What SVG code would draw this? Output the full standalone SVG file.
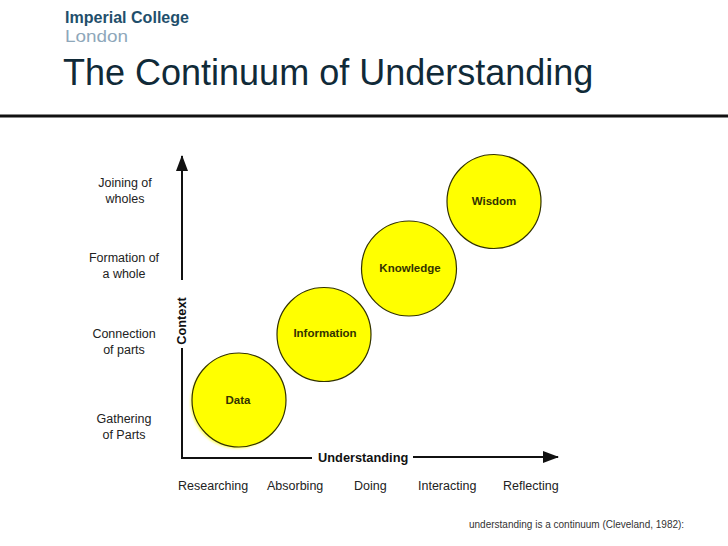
<svg xmlns="http://www.w3.org/2000/svg" width="728" height="546" viewBox="0 0 728 546">
<style>
.lbl{font-family:"Liberation Sans",Arial,sans-serif;font-size:12.5px;fill:#222;}
.ax{font-family:"Liberation Sans",Arial,sans-serif;font-size:12.8px;font-weight:bold;fill:#111;}
.node circle{fill:#ffff00;stroke:#333300;stroke-width:1.2;}
.node text{font-family:"Liberation Sans",Arial,sans-serif;font-size:11.5px;font-weight:bold;fill:#333300;text-anchor:middle;}
.axis{stroke:#111;stroke-width:2;fill:none;}
</style>
<defs>
<marker id="arr" markerWidth="16" markerHeight="12" refX="15" refY="6" orient="auto" markerUnits="userSpaceOnUse">
<path d="M0,0 L16,6 L0,12 Z" fill="#111"/>
</marker>
<filter id="sh" x="-20%" y="-20%" width="140%" height="140%"><feGaussianBlur stdDeviation="1.2"/></filter>
</defs>
<rect width="728" height="546" fill="#fff"/>
<g id="header">
<text x="65" y="23" font-family="'Liberation Sans',Arial,sans-serif" font-size="16" font-weight="bold" fill="#1f4f6c" textLength="124" lengthAdjust="spacingAndGlyphs">Imperial College</text>
<text x="65" y="42" font-family="'Liberation Sans',Arial,sans-serif" font-size="16" fill="#8ea7ba" textLength="63" lengthAdjust="spacingAndGlyphs">London</text>
<text x="63" y="85" font-family="'Liberation Sans',Arial,sans-serif" font-size="36" fill="#102a38">The Continuum of Understanding</text>
<line x1="0" y1="116" x2="728" y2="116" stroke="#111" stroke-width="3"/>
</g>
<g id="connectors">
<line class="axis" x1="182" y1="458" x2="182" y2="348"/>
<line class="axis" x1="182" y1="280" x2="182" y2="156" marker-end="url(#arr)"/>
<line class="axis" x1="181" y1="458" x2="312" y2="458"/>
<line class="axis" x1="413" y1="457" x2="558" y2="457" marker-end="url(#arr)"/>
</g>
<g id="axis-labels">
<text class="ax" transform="translate(186,321) rotate(-90)" text-anchor="middle">Context</text>
<text class="ax" x="318" y="462">Understanding</text>
</g>
<g id="left-labels">
<text class="lbl" x="125" y="187" text-anchor="middle">Joining of</text>
<text class="lbl" x="125" y="203" text-anchor="middle">wholes</text>
<text class="lbl" x="124" y="262" text-anchor="middle">Formation of</text>
<text class="lbl" x="124" y="278" text-anchor="middle">a whole</text>
<text class="lbl" x="124" y="338" text-anchor="middle">Connection</text>
<text class="lbl" x="124" y="354" text-anchor="middle">of parts</text>
<text class="lbl" x="124" y="423" text-anchor="middle">Gathering</text>
<text class="lbl" x="124" y="439" text-anchor="middle">of Parts</text>
</g>
<g id="bottom-labels">
<text class="lbl" x="178" y="490">Researching</text>
<text class="lbl" x="267" y="490">Absorbing</text>
<text class="lbl" x="354" y="490">Doing</text>
<text class="lbl" x="418" y="490">Interacting</text>
<text class="lbl" x="503" y="490">Reflecting</text>
</g>
<g id="data" class="node">
<circle cx="237" cy="402" r="46.5" fill="#999" fill-opacity="0.6" filter="url(#sh)" style="stroke:none"/>
<circle cx="239" cy="400" r="47"/>
<text x="238" y="404">Data</text>
</g>
<g id="information" class="node">
<circle cx="324" cy="334.5" r="47"/>
<text x="325" y="337">Information</text>
</g>
<g id="knowledge" class="node">
<circle cx="409" cy="268.5" r="47.5"/>
<text x="410" y="272">Knowledge</text>
</g>
<g id="wisdom" class="node">
<circle cx="494" cy="201.5" r="47"/>
<text x="494" y="205">Wisdom</text>
</g>
<text x="469" y="528" font-family="'Liberation Sans',Arial,sans-serif" font-size="10" fill="#333">understanding is a continuum (Cleveland, 1982):</text>
</svg>
